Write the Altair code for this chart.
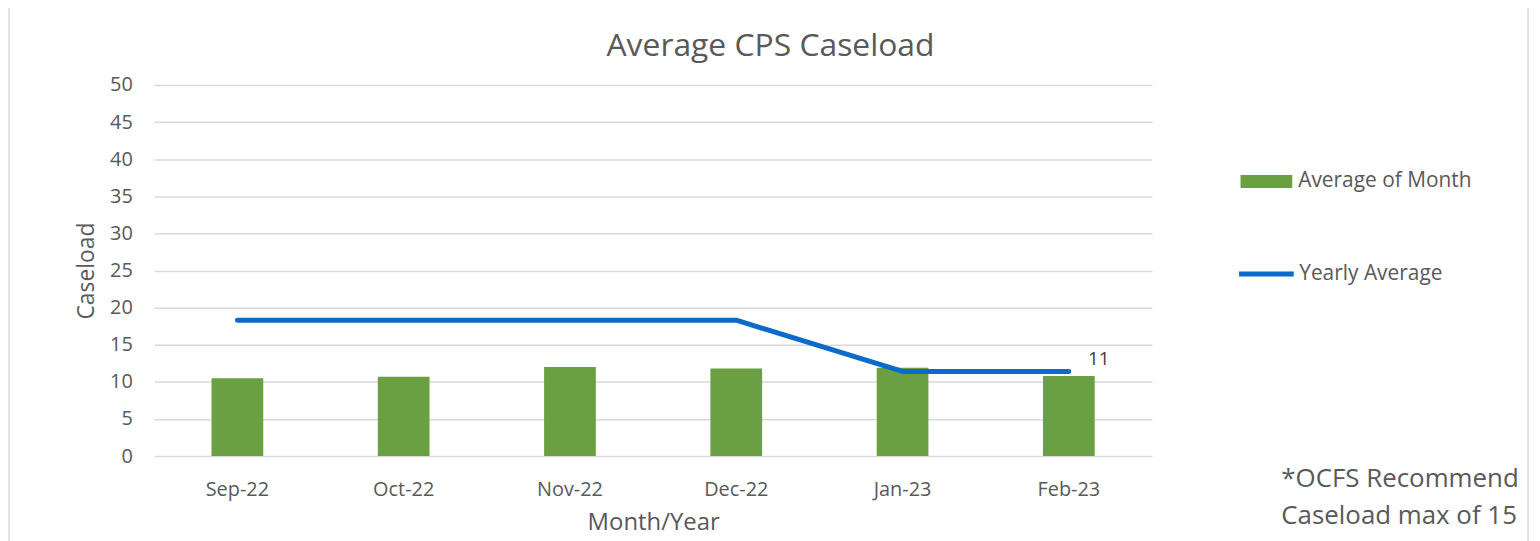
import altair as alt
import pandas as pd

months = ["Sep-22", "Oct-22", "Nov-22", "Dec-22", "Jan-23", "Feb-23"]
month_avg = [10.5, 10.7, 12.0, 11.8, 11.9, 10.8]
yearly_avg = [18.3, 18.3, 18.3, 18.3, 11.4, 11.4]
label_text = ["", "", "", "", "", "11"]
note_lines = ["*OCFS Recommend", "Caseload max of 15"]

FONT = "Open Sans"
TXT = "#595959"
GREEN = "#6A9F42"
BLUE = "#0B6BCB"

df = pd.DataFrame({
    "Month": months,
    "Avg": month_avg,
    "Yearly": yearly_avg,
    "Label": label_text,
    "S1": ["Average of Month"] * 6,
    "S2": ["Yearly Average"] * 6,
})

x = alt.X("Month:N", sort=months,
          scale=alt.Scale(paddingInner=0, paddingOuter=0),
          axis=alt.Axis(title="Month/Year", labelAngle=0, domain=False, ticks=False,
                        labelPadding=24, titlePadding=11, titleFontSize=24))

y_axis = alt.Axis(title="Caseload", values=list(range(0, 51, 5)), domain=False, ticks=False,
                  gridColor="#D9D9D9", gridWidth=1.5, labelPadding=22, titlePadding=11,
                  labelOverlap=False, titleFontSize=23)
y_scale = alt.Scale(domain=[0, 50], nice=False)

bars = alt.Chart(df).mark_bar(size=52).encode(
    x=x,
    y=alt.Y("Avg:Q", scale=y_scale, axis=y_axis),
    fill=alt.Fill("S1:N", scale=alt.Scale(range=[GREEN]),
                  legend=alt.Legend(title=None, orient="none", legendX=1092, legendY=71,
                                    symbolType="M-1,-0.25H1V0.25H-1Z", symbolSize=2704,
                                    symbolStrokeWidth=0, labelOffset=6, padding=0,
                                    labelLimit=400)),
)

line = alt.Chart(df).mark_line(strokeWidth=5, strokeCap="round", strokeJoin="round").encode(
    x=x,
    y=alt.Y("Yearly:Q", scale=y_scale, axis=y_axis),
    stroke=alt.Stroke("S2:N", scale=alt.Scale(range=[BLUE]),
                      legend=alt.Legend(title=None, orient="none", legendX=1088, legendY=160,
                                        symbolType="stroke", symbolSize=3025,
                                        symbolStrokeWidth=5, labelOffset=3, padding=0,
                                        labelLimit=400)),
)

labels = alt.Chart(df).mark_text(dx=30, dy=-12, fontSize=19, font=FONT, color="#404040").encode(
    x=x, y=alt.Y("Yearly:Q", scale=y_scale, axis=y_axis), text="Label:N"
)

note = alt.Chart(pd.DataFrame({"t": [note_lines]})).mark_text(
    align="left", baseline="middle", fontSize=26, font=FONT, color=TXT, lineHeight=37
).encode(x=alt.value(1133), y=alt.value(396), text="t")

frame = alt.Chart(pd.DataFrame({"a": [0]})).mark_rect(
    fill=None, stroke="#D9D9D9", strokeWidth=1.5
).encode(x=alt.value(-146), x2=alt.value(1381), y=alt.value(-83), y2=alt.value(480))

chart = alt.layer(frame, bars, line, labels, note).resolve_legend(fill="independent", stroke="independent").properties(
    width=1003, height=373,
    autosize=alt.AutoSizeParams(type="none"),
    padding={"left": 147, "top": 76, "right": 382, "bottom": 84},
    title=alt.TitleParams("Average CPS Caseload", fontSize=32, font=FONT, fontWeight="normal",
                          color=TXT, anchor="middle", dx=118, offset=-87, baseline="alphabetic"),
).configure_axis(
    labelFont=FONT, titleFont=FONT, labelFontSize=20,
    labelColor=TXT, titleColor=TXT, titleFontWeight="normal",
).configure_axisX(grid=False).configure_legend(
    labelFont=FONT, labelFontSize=21, labelColor=TXT
).configure_view(stroke=None)

chart.save("out.html", embed_options={"renderer": "svg", "actions": False})
